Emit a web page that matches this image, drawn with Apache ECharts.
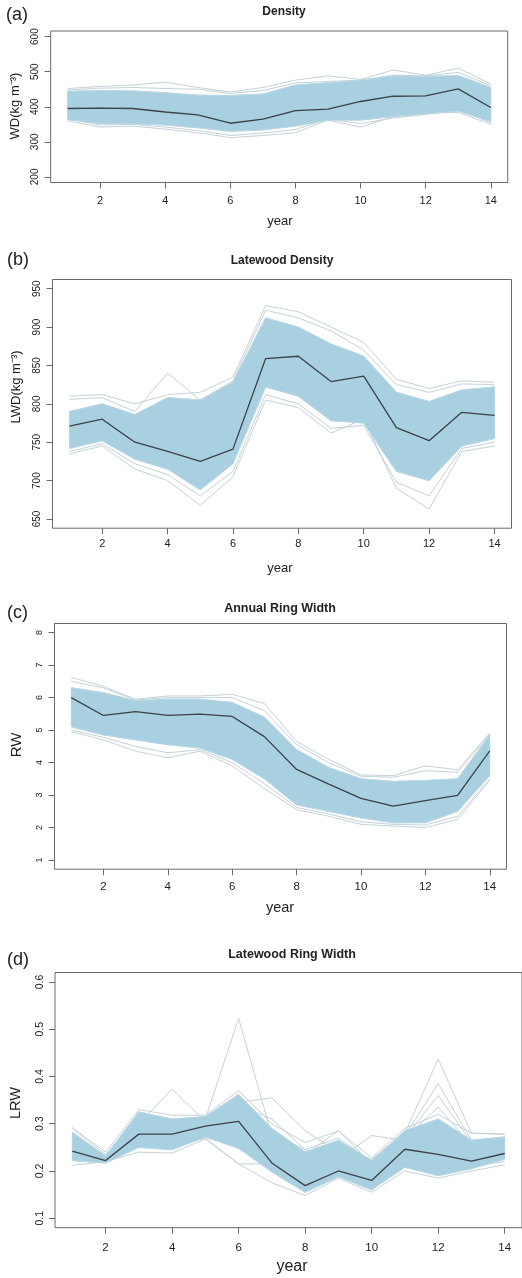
<!DOCTYPE html>
<html>
<head>
<meta charset="utf-8">
<script src="https://cdn.jsdelivr.net/npm/echarts@6/dist/echarts.min.js"></script>
<style>
  html, body { margin: 0; padding: 0; background: #ffffff; }
  #chart { width: 522px; height: 1278px; }
</style>
</head>
<body>
<div id="chart"></div>
<script>
// ---- data -------------------------------------------------------------
const years = [1, 2, 3, 4, 5, 6, 7, 8, 9, 10, 11, 12, 13, 14];
const xTicks = [2, 4, 6, 8, 10, 12, 14];

// (a) Density, WD (kg m^-3)
const wdTicks = [200, 300, 400, 500, 600];
const wdMean = [395, 396, 395, 385, 377, 353, 365, 389, 393, 415, 430, 431, 451, 398];
const wdCoreHigh = [444, 446, 445, 440, 433, 432, 436, 462, 468, 475, 488, 486, 489, 455];
const wdCoreLow = [364, 352, 352, 348, 340, 330, 334, 345, 362, 362, 372, 380, 388, 358];
const wdEdgeHigh1 = [452, 458, 462, 470, 455, 442, 455, 476, 488, 478, 505, 490, 510, 465];
const wdEdgeHigh2 = [448, 453, 455, 452, 450, 438, 446, 468, 472, 476, 490, 488, 498, 460];
const wdEdgeLow1 = [360, 342, 345, 336, 326, 312, 318, 326, 362, 342, 372, 382, 384, 350];
const wdEdgeLow2 = [365, 348, 350, 342, 332, 318, 325, 335, 365, 352, 368, 378, 390, 355];

// (b) Latewood density, LWD (kg m^-3)
const lwdTicks = [650, 700, 750, 800, 850, 900, 950];
const lwdMean = [771, 780, 750, 738, 725, 741, 859, 862, 829, 836, 769, 752, 789, 785];
const lwdCoreHigh = [790, 800, 786, 808, 805, 828, 912, 900, 878, 862, 815, 803, 818, 822];
const lwdCoreLow = [742, 752, 728, 715, 688, 722, 822, 810, 778, 775, 712, 700, 745, 755];
const lwdEdgeHigh1 = [810, 812, 800, 812, 815, 835, 928, 920, 900, 880, 832, 820, 830, 828];
const lwdEdgeHigh2 = [806, 808, 790, 840, 805, 830, 922, 912, 895, 870, 825, 815, 826, 825];
const lwdEdgeLow1 = [735, 745, 715, 700, 668, 705, 805, 795, 762, 780, 690, 663, 738, 745];
const lwdEdgeLow2 = [738, 748, 722, 708, 680, 712, 812, 800, 768, 772, 698, 680, 742, 750];

// (c) Annual ring width, RW
const rwTicks = [1, 2, 3, 4, 5, 6, 7, 8];
const rwMean = [6.0, 5.45, 5.57, 5.45, 5.49, 5.42, 4.8, 3.79, 3.34, 2.9, 2.66, 2.83, 2.99, 4.36];
const rwCoreHigh = [6.3, 6.15, 5.9, 5.95, 5.95, 5.85, 5.4, 4.4, 3.85, 3.5, 3.42, 3.45, 3.5, 4.85];
const rwCoreLow = [5.1, 4.85, 4.7, 4.55, 4.45, 4.1, 3.5, 2.7, 2.5, 2.3, 2.15, 2.15, 2.5, 3.6];
const rwEdgeHigh1 = [6.62, 6.35, 5.95, 6.05, 6.05, 6.1, 5.82, 4.65, 4.1, 3.62, 3.6, 3.9, 3.78, 4.9];
const rwEdgeHigh2 = [6.5, 6.3, 5.92, 6.0, 6.0, 6.0, 5.6, 4.55, 4.0, 3.58, 3.55, 3.75, 3.7, 4.88];
const rwEdgeLow1 = [4.95, 4.7, 4.35, 4.15, 4.35, 3.9, 3.2, 2.55, 2.35, 2.1, 2.05, 2.0, 2.25, 3.45];
const rwEdgeLow2 = [5.0, 4.78, 4.5, 4.3, 4.4, 4.0, 3.35, 2.62, 2.42, 2.18, 2.1, 2.08, 2.35, 3.5];

// (d) Latewood ring width, LRW
const lrwTicks = [0.1, 0.2, 0.3, 0.4, 0.5, 0.6];
const lrwMean = [0.242, 0.222, 0.278, 0.278, 0.295, 0.305, 0.217, 0.169, 0.200, 0.180, 0.246, 0.235, 0.221, 0.237];
const lrwCoreHigh = [0.282, 0.232, 0.325, 0.31, 0.315, 0.362, 0.29, 0.24, 0.265, 0.222, 0.285, 0.31, 0.265, 0.272];
const lrwCoreLow = [0.222, 0.217, 0.25, 0.245, 0.272, 0.248, 0.198, 0.155, 0.188, 0.16, 0.208, 0.19, 0.205, 0.225];
const lrwEdgeHigh = [0.292, 0.24, 0.33, 0.318, 0.318, 0.37, 0.3, 0.26, 0.285, 0.228, 0.29, 0.32, 0.28, 0.278];
const lrwEdgeLow = [0.212, 0.22, 0.24, 0.238, 0.268, 0.215, 0.175, 0.148, 0.185, 0.155, 0.2, 0.185, 0.2, 0.213];
const lrwSpike6 = [0.29, 0.235, 0.3, 0.305, 0.31, 0.523, 0.275, 0.24, 0.25, 0.225, 0.28, 0.3, 0.26, 0.27];
const lrwSpike4 = [0.25, 0.225, 0.3, 0.373, 0.305, 0.34, 0.31, 0.245, 0.27, 0.22, 0.27, 0.27, 0.26, 0.265];
const lrwLate7 = [0.26, 0.225, 0.3, 0.31, 0.31, 0.345, 0.355, 0.285, 0.24, 0.22, 0.27, 0.28, 0.25, 0.26];
const lrwHigh10 = [0.25, 0.225, 0.29, 0.29, 0.3, 0.32, 0.28, 0.245, 0.225, 0.275, 0.265, 0.28, 0.262, 0.268];
const lrwHigh9 = [0.26, 0.228, 0.3, 0.3, 0.305, 0.33, 0.27, 0.235, 0.285, 0.215, 0.275, 0.29, 0.26, 0.27];
const lrwSpike12a = [0.24, 0.225, 0.29, 0.3, 0.3, 0.33, 0.27, 0.23, 0.255, 0.21, 0.28, 0.437, 0.28, 0.278];
const lrwSpike12b = [0.25, 0.225, 0.3, 0.3, 0.3, 0.33, 0.26, 0.22, 0.25, 0.2, 0.275, 0.385, 0.265, 0.27];
const lrwSpike12c = [0.24, 0.222, 0.29, 0.29, 0.3, 0.32, 0.25, 0.21, 0.24, 0.2, 0.27, 0.36, 0.26, 0.265];
const lrwSpike12d = [0.24, 0.222, 0.29, 0.29, 0.3, 0.32, 0.25, 0.21, 0.24, 0.2, 0.27, 0.335, 0.255, 0.262];
const lrwFlat67 = [0.23, 0.22, 0.26, 0.25, 0.27, 0.215, 0.215, 0.175, 0.195, 0.17, 0.21, 0.2, 0.21, 0.22];

// ---- styling ----------------------------------------------------------
const FONT = "'Liberation Sans', Arial, Helvetica, sans-serif";
const BAND = '#a8d0e1';
const BAND_EDGE = '#b9d7e3';
const EDGE = '#c4d2d8';
const MEAN = '#3b4146';
const BOX = '#6a6a6a';
const TXT = '#222222';

// One entry per panel: layout plus the arrays it draws
const panels = [
  { grid: { left: 50.7, top: 31, width: 457, height: 151.5 },
    yMin: 184, yMax: 616, yTicks: wdTicks,
    mean: wdMean, low: wdCoreLow, high: wdCoreHigh,
    edges: [wdEdgeHigh1, wdEdgeHigh2, wdEdgeLow1, wdEdgeLow2],
    xFont: 11, yFont: 10, xMargin: 13, yMargin: 10, digits: 0 },
  { grid: { left: 52.5, top: 279.5, width: 459, height: 248.7 },
    yMin: 638, yMax: 962, yTicks: lwdTicks,
    mean: lwdMean, low: lwdCoreLow, high: lwdCoreHigh,
    edges: [lwdEdgeHigh1, lwdEdgeHigh2, lwdEdgeLow1, lwdEdgeLow2],
    xFont: 11, yFont: 10, xMargin: 10, yMargin: 10, digits: 0 },
  { grid: { left: 54.5, top: 623.5, width: 452, height: 245.7 },
    yMin: 0.72, yMax: 8.28, yTicks: rwTicks,
    mean: rwMean, low: rwCoreLow, high: rwCoreHigh,
    edges: [rwEdgeHigh1, rwEdgeHigh2, rwEdgeLow1, rwEdgeLow2],
    xFont: 11.5, yFont: 9, xMargin: 12, yMargin: 10, digits: 0 },
  { grid: { left: 55, top: 972.5, width: 471, height: 255.2 },
    yMin: 0.08, yMax: 0.62, yTicks: lrwTicks,
    mean: lrwMean, low: lrwCoreLow, high: lrwCoreHigh,
    edges: [lrwEdgeHigh, lrwEdgeLow, lrwSpike6, lrwSpike4, lrwLate7, lrwHigh10,
            lrwHigh9, lrwSpike12a, lrwSpike12b, lrwSpike12c, lrwSpike12d, lrwFlat67],
    xFont: 11.5, yFont: 10.5, xMargin: 14, yMargin: 9, digits: 1 }
];

const pairs = vals => years.map((x, i) => [x, vals[i]]);

// band between core low/high, one trapezoid per year step
function renderBand(params, api) {
  const x0 = api.value(0), lo0 = api.value(1), hi0 = api.value(2);
  const x1 = api.value(3), lo1 = api.value(4), hi1 = api.value(5);
  const pts = [
    api.coord([x0, lo0]), api.coord([x1, lo1]),
    api.coord([x1, hi1]), api.coord([x0, hi0])
  ];
  return {
    type: 'polygon',
    shape: { points: pts },
    style: { fill: BAND, stroke: BAND, lineWidth: 0.8 }
  };
}

const grids = [], xAxes = [], yAxes = [], series = [];

panels.forEach((p, k) => {
  grids.push(Object.assign({
    show: true, borderColor: BOX, borderWidth: 1, backgroundColor: '#ffffff',
    containLabel: false
  }, p.grid));

  xAxes.push({
    type: 'value', gridIndex: k, min: 0.48, max: 14.52,
    axisLine: { show: false },
    splitLine: { show: false },
    axisTick: { show: true, length: 6, inside: false, customValues: xTicks,
                lineStyle: { color: BOX, width: 1 } },
    axisLabel: { show: true, customValues: xTicks, margin: p.xMargin,
                 fontFamily: FONT, fontSize: p.xFont, color: TXT }
  });

  yAxes.push({
    type: 'value', gridIndex: k, min: p.yMin, max: p.yMax,
    axisLine: { show: false },
    splitLine: { show: false },
    axisTick: { show: true, length: 6, inside: false, customValues: p.yTicks,
                lineStyle: { color: BOX, width: 1 } },
    axisLabel: { show: true, customValues: p.yTicks, rotate: 90, margin: p.yMargin,
                 fontFamily: FONT, fontSize: p.yFont, color: TXT,
                 formatter: v => Number(v).toFixed(p.digits) }
  });

  // individual trajectories that stray outside the dense core
  p.edges.forEach(e => {
    series.push({
      type: 'line', xAxisIndex: k, yAxisIndex: k, data: pairs(e),
      symbol: 'none', silent: true, z: 2,
      lineStyle: { color: EDGE, width: 1 }
    });
  });

  // dense core of the simulated curves
  const segs = [];
  for (let i = 0; i < years.length - 1; i++) {
    segs.push([years[i], p.low[i], p.high[i], years[i + 1], p.low[i + 1], p.high[i + 1]]);
  }
  series.push({
    type: 'custom', xAxisIndex: k, yAxisIndex: k, data: segs,
    renderItem: renderBand, silent: true, z: 3,
    encode: { x: [0, 3], y: [1, 2, 4, 5] }
  });
  [p.low, p.high].forEach(b => {
    series.push({
      type: 'line', xAxisIndex: k, yAxisIndex: k, data: pairs(b),
      symbol: 'none', silent: true, z: 3,
      lineStyle: { color: BAND_EDGE, width: 1 }
    });
  });

  // mean curve
  series.push({
    type: 'line', xAxisIndex: k, yAxisIndex: k, data: pairs(p.mean),
    symbol: 'none', silent: true, z: 5,
    lineStyle: { color: MEAN, width: 1.3 }
  });
});

// titles, panel letters and axis names
const txt = (x, y, text, size, opts) => Object.assign({
  type: 'text', x: x, y: y, silent: true, z: 10,
  style: Object.assign({ text: text, fontFamily: FONT, fontSize: size, fill: TXT,
                         align: 'center', verticalAlign: 'middle' }, (opts && opts.style) || {})
}, opts && opts.rotation ? { rotation: opts.rotation } : {});

const bold = { style: { fontWeight: 'bold' } };
const left = { style: { align: 'left' } };
const up = { rotation: Math.PI / 2 };

const graphics = [
  txt(284, 12, 'Density', 12, bold),
  txt(282, 261, 'Latewood Density', 12, bold),
  txt(280, 609, 'Annual Ring Width', 12.5, bold),
  txt(292, 955, 'Latewood Ring Width', 12.5, bold),

  txt(6, 15, '(a)', 18, left),
  txt(7, 260, '(b)', 18, left),
  txt(7, 613, '(c)', 18, left),
  txt(7, 960, '(d)', 18, left),

  txt(15, 106, 'WD(kg m⁻³)', 13, up),
  txt(16, 387, 'LWD(kg m⁻³)', 13, up),
  txt(17, 745, 'RW', 15, up),
  txt(16, 1103, 'LRW', 14.5, up),

  txt(280, 221, 'year', 13),
  txt(280, 568, 'year', 13),
  txt(280, 908, 'year', 14.5),
  txt(292, 1267, 'year', 16)
];

const chart = echarts.init(document.getElementById('chart'), null, { renderer: 'canvas' });
chart.setOption({
  animation: false,
  backgroundColor: '#ffffff',
  grid: grids,
  xAxis: xAxes,
  yAxis: yAxes,
  series: series,
  graphic: graphics
});
</script>
</body>
</html>
